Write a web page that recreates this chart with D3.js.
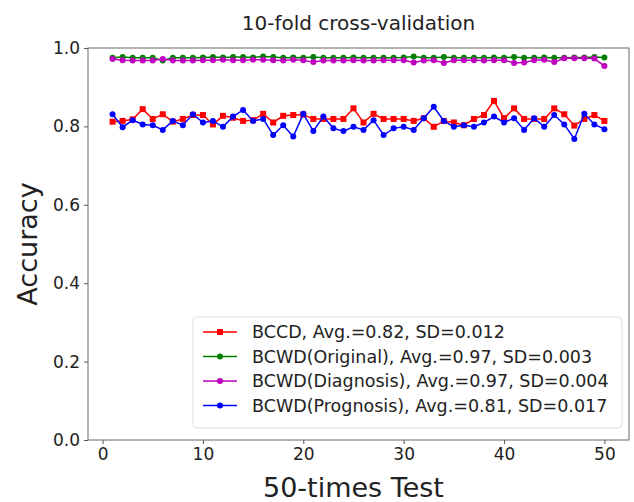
<!DOCTYPE html>
<html>
<head>
<meta charset="utf-8">
<script src="https://cdn.jsdelivr.net/npm/d3@7"></script>
<style>
  body { margin: 0; background: #fff; }
  svg { font-family: "DejaVu Sans", sans-serif; }
</style>
</head>
<body>
<script>
// Data: 50 repetitions of 10-fold cross-validation
var runs = d3.range(1, 51);

var bccd = [0.812,0.814,0.818,0.844,0.819,0.831,0.812,0.819,0.829,0.829,
            0.805,0.827,0.822,0.814,0.816,0.832,0.810,0.827,0.829,0.830,
            0.819,0.819,0.819,0.819,0.846,0.810,0.832,0.819,0.819,0.819,
            0.814,0.821,0.799,0.814,0.810,0.803,0.819,0.829,0.865,0.821,
            0.846,0.819,0.819,0.819,0.846,0.831,0.802,0.819,0.829,0.814];

var bcwdOriginal = [0.975,0.977,0.975,0.975,0.975,0.968,0.975,0.975,0.975,0.976,
                    0.977,0.976,0.977,0.977,0.976,0.978,0.977,0.975,0.976,0.975,
                    0.977,0.975,0.975,0.975,0.976,0.975,0.975,0.975,0.975,0.976,
                    0.978,0.975,0.975,0.977,0.975,0.975,0.975,0.975,0.976,0.975,
                    0.977,0.975,0.975,0.976,0.975,0.975,0.976,0.976,0.977,0.976];

var bcwdDiagnosis = [0.972,0.969,0.968,0.968,0.968,0.972,0.968,0.968,0.968,0.969,
                     0.969,0.970,0.969,0.969,0.970,0.970,0.969,0.968,0.970,0.969,
                     0.964,0.968,0.968,0.968,0.969,0.968,0.968,0.969,0.969,0.969,
                     0.963,0.968,0.969,0.962,0.969,0.969,0.969,0.968,0.969,0.969,
                     0.962,0.963,0.969,0.970,0.964,0.974,0.974,0.974,0.973,0.954];

var bcwdPrognosis = [0.831,0.798,0.816,0.805,0.803,0.791,0.814,0.803,0.831,0.810,
                     0.814,0.799,0.825,0.842,0.814,0.819,0.778,0.803,0.774,0.832,
                     0.788,0.825,0.795,0.788,0.799,0.791,0.816,0.778,0.795,0.799,
                     0.791,0.821,0.850,0.814,0.799,0.803,0.799,0.810,0.825,0.810,
                     0.821,0.791,0.821,0.799,0.829,0.805,0.768,0.832,0.805,0.793];

var seriesNames = ['BCCD, Avg.=0.82, SD=0.012',
                   'BCWD(Original), Avg.=0.97, SD=0.003',
                   'BCWD(Diagnosis), Avg.=0.97, SD=0.004',
                   'BCWD(Prognosis), Avg.=0.81, SD=0.017'];
var seriesColors = ['#ff0000', '#008000', '#bf00bf', '#0000ff'];
var seriesMarkers = ['square', 'circle', 'circle', 'circle'];

var xTicks = [0, 10, 20, 30, 40, 50];
var yTicks = [0.0, 0.2, 0.4, 0.6, 0.8, 1.0];

var series = [bccd, bcwdOriginal, bcwdDiagnosis, bcwdPrognosis].map(function(vals, i) {
    return {
        name: seriesNames[i],
        color: seriesColors[i],
        marker: seriesMarkers[i],
        values: vals.map(function(v, j) { return {run: runs[j], acc: v}; })
    };
});

// Set dimensions and margins of graph
var margin = {top: 48, right: 5, bottom: 62, left: 88},
    width = 634 - margin.left - margin.right,
    height = 502 - margin.top - margin.bottom;

var x = d3.scaleLinear().domain([-1.45, 52.45]).range([0, width]);
var y = d3.scaleLinear().domain([0, 1]).range([height, 0]);

var line = d3.line()
    .x(function(d) { return x(d.run); })
    .y(function(d) { return y(d.acc); });

var svg = d3.select('body').append('svg')
    .attr('width', 634)
    .attr('height', 502);

var g = svg.append('g')
    .attr('transform', 'translate(' + margin.left + ',' + margin.top + ')');

// Lines and markers
series.forEach(function(s) {
    g.append('path')
        .datum(s.values)
        .attr('fill', 'none')
        .attr('stroke', s.color)
        .attr('stroke-width', 1.5)
        .attr('d', line);

    if (s.marker === 'square') {
        g.selectAll(null)
            .data(s.values)
          .enter().append('rect')
            .attr('x', function(d) { return x(d.run) - 3; })
            .attr('y', function(d) { return y(d.acc) - 3; })
            .attr('width', 6)
            .attr('height', 6)
            .attr('fill', s.color);
    } else {
        g.selectAll(null)
            .data(s.values)
          .enter().append('circle')
            .attr('cx', function(d) { return x(d.run); })
            .attr('cy', function(d) { return y(d.acc); })
            .attr('r', 3)
            .attr('fill', s.color);
    }
});

// Axes
var xAxis = g.append('g')
    .attr('transform', 'translate(0,' + height + ')')
    .call(d3.axisBottom(x).tickValues(xTicks).tickSize(4).tickPadding(4));

var yAxis = g.append('g')
    .call(d3.axisLeft(y).tickValues(yTicks).tickFormat(d3.format('.1f')).tickSize(4).tickPadding(4));

[xAxis, yAxis].forEach(function(a) {
    a.select('.domain').remove();
    a.selectAll('.tick line').attr('stroke', '#555');
    a.selectAll('.tick text')
        .attr('fill', '#222')
        .style('font-size', '17px')
        .style('font-family', '"DejaVu Sans", sans-serif');
});

// Frame
g.append('rect')
    .attr('width', width)
    .attr('height', height)
    .attr('fill', 'none')
    .attr('stroke', '#666')
    .attr('stroke-width', 1);

// Legend
var legend = g.append('g')
    .attr('transform', 'translate(' + (193 - margin.left) + ',' + (317 - margin.top) + ')');

legend.append('rect')
    .attr('width', 429)
    .attr('height', 111)
    .attr('rx', 4)
    .attr('fill', '#fff')
    .attr('fill-opacity', 0.8)
    .attr('stroke', '#ddd');

series.forEach(function(s, i) {
    var row = legend.append('g')
        .attr('transform', 'translate(0,' + (15 + i * 24.5) + ')');
    row.append('line')
        .attr('x1', 10).attr('x2', 44)
        .attr('stroke', s.color)
        .attr('stroke-width', 1.5);
    if (s.marker === 'square') {
        row.append('rect')
            .attr('x', 24).attr('y', -3)
            .attr('width', 6).attr('height', 6)
            .attr('fill', s.color);
    } else {
        row.append('circle')
            .attr('cx', 27).attr('r', 3)
            .attr('fill', s.color);
    }
    row.append('text')
        .attr('x', 59)
        .attr('dy', '0.35em')
        .attr('fill', '#222')
        .style('font-size', '17.5px')
        .text(s.name);
});

// Title and axis labels
svg.append('text')
    .attr('x', margin.left + width / 2)
    .attr('y', 30)
    .attr('text-anchor', 'middle')
    .attr('fill', '#222')
    .style('font-size', '20px')
    .text('10-fold cross-validation');

svg.append('text')
    .attr('x', margin.left + x(25))
    .attr('y', 497)
    .attr('text-anchor', 'middle')
    .attr('fill', '#222')
    .style('font-size', '27px')
    .text('50-times Test');

svg.append('text')
    .attr('transform', 'translate(37,' + (margin.top + height / 2) + ') rotate(-90)')
    .attr('text-anchor', 'middle')
    .attr('fill', '#222')
    .style('font-size', '27px')
    .text('Accuracy');
</script>
</body>
</html>
